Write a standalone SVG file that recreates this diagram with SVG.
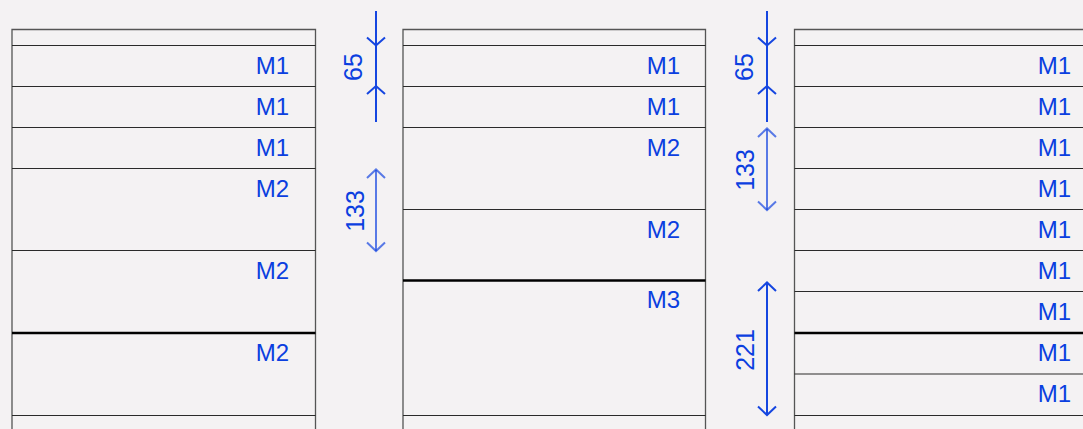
<svg xmlns="http://www.w3.org/2000/svg" width="1083" height="429" viewBox="0 0 1083 429">
<style>
.bg{fill:#f4f2f3}
.box{fill:#f4f2f3;stroke:#555;stroke-width:1.3}
.sep{stroke:#2a2a2a;stroke-width:1.2}
.thick{stroke:#000;stroke-width:2.4}
.lbl{font-family:"Liberation Sans",Arial,sans-serif;font-size:24px;fill:#0b3fe0;text-anchor:end}
.dim{stroke:#1546e0;stroke-width:2;fill:none}
.dimf{stroke:#1546e0;stroke-width:2;fill:none;stroke-opacity:0.7}
.dt{font-family:"Liberation Sans",Arial,sans-serif;font-size:25px;fill:#0b3fe0;text-anchor:middle}
</style>
<rect class="bg" x="0" y="0" width="1083" height="429"/>
<g id="column1">
<path class="box" d="M12,440 V29.5 H315.5 V440"/>
<line class="sep" x1="12" y1="45.5" x2="315.5" y2="45.5"/>
<line class="sep" x1="12" y1="86.5" x2="315.5" y2="86.5"/>
<line class="sep" x1="12" y1="127.5" x2="315.5" y2="127.5"/>
<line class="sep" x1="12" y1="168.5" x2="315.5" y2="168.5"/>
<line class="sep" x1="12" y1="250.5" x2="315.5" y2="250.5"/>
<line class="thick" x1="12" y1="333" x2="315.5" y2="333"/>
<line class="sep" x1="12" y1="415.5" x2="315.5" y2="415.5"/>
<text class="lbl" x="289" y="74">M1</text>
<text class="lbl" x="289" y="115">M1</text>
<text class="lbl" x="289" y="156">M1</text>
<text class="lbl" x="289" y="197">M2</text>
<text class="lbl" x="289" y="279">M2</text>
<text class="lbl" x="289" y="361">M2</text>
</g>
<g id="column2">
<path class="box" d="M403,440 V29.5 H705.5 V440"/>
<line class="sep" x1="403" y1="45.5" x2="705.5" y2="45.5"/>
<line class="sep" x1="403" y1="86.5" x2="705.5" y2="86.5"/>
<line class="sep" x1="403" y1="127.5" x2="705.5" y2="127.5"/>
<line class="sep" x1="403" y1="209.5" x2="705.5" y2="209.5"/>
<line class="thick" x1="403" y1="280.5" x2="705.5" y2="280.5"/>
<line class="sep" x1="403" y1="415.5" x2="705.5" y2="415.5"/>
<text class="lbl" x="680" y="74">M1</text>
<text class="lbl" x="680" y="115">M1</text>
<text class="lbl" x="680" y="156">M2</text>
<text class="lbl" x="680" y="238">M2</text>
<text class="lbl" x="680" y="308">M3</text>
</g>
<g id="column3">
<path class="box" d="M794.5,440 V29.5 H1100"/>
<line class="sep" x1="794.5" y1="45.5" x2="1100" y2="45.5"/>
<line class="sep" x1="794.5" y1="86.5" x2="1100" y2="86.5"/>
<line class="sep" x1="794.5" y1="127.5" x2="1100" y2="127.5"/>
<line class="sep" x1="794.5" y1="168.5" x2="1100" y2="168.5"/>
<line class="sep" x1="794.5" y1="209.5" x2="1100" y2="209.5"/>
<line class="sep" x1="794.5" y1="250.5" x2="1100" y2="250.5"/>
<line class="sep" x1="794.5" y1="291.5" x2="1100" y2="291.5"/>
<line class="thick" x1="794.5" y1="333" x2="1100" y2="333"/>
<line class="sep" x1="794.5" y1="374" x2="1100" y2="374"/>
<line class="sep" x1="794.5" y1="415.5" x2="1100" y2="415.5"/>
<text class="lbl" x="1071" y="74">M1</text>
<text class="lbl" x="1071" y="115">M1</text>
<text class="lbl" x="1071" y="156">M1</text>
<text class="lbl" x="1071" y="197">M1</text>
<text class="lbl" x="1071" y="238">M1</text>
<text class="lbl" x="1071" y="279">M1</text>
<text class="lbl" x="1071" y="320">M1</text>
<text class="lbl" x="1071" y="361">M1</text>
<text class="lbl" x="1071" y="402">M1</text>
</g>
<g id="connectors">
<g id="dim-65-left">
<line class="dim" x1="376" y1="11" x2="376" y2="122"/>
<path class="dim" d="M367,37.5 L376,45.5 L385,37.5"/>
<path class="dim" d="M367,94 L376,86 L385,94"/>
<text class="dt" transform="translate(362,67) rotate(-90)">65</text>
</g>
<g id="dim-133-left">
<line class="dimf" x1="376" y1="170" x2="376" y2="251"/>
<path class="dimf" d="M367,178 L376,169.5 L385,178"/>
<path class="dimf" d="M367,242.5 L376,251 L385,242.5"/>
<text class="dt" transform="translate(364,211) rotate(-90)">133</text>
</g>
<g id="dim-65-right">
<line class="dim" x1="767" y1="11" x2="767" y2="122"/>
<path class="dim" d="M758,37.5 L767,45.5 L776,37.5"/>
<path class="dim" d="M758,94 L767,86 L776,94"/>
<text class="dt" transform="translate(753,67) rotate(-90)">65</text>
</g>
<g id="dim-133-right">
<line class="dimf" x1="767" y1="129" x2="767" y2="210"/>
<path class="dimf" d="M758,137 L767,128.5 L776,137"/>
<path class="dimf" d="M758,201.5 L767,210 L776,201.5"/>
<text class="dt" transform="translate(754,170) rotate(-90)">133</text>
</g>
<g id="dim-221-right">
<line class="dim" x1="767" y1="283" x2="767" y2="415"/>
<path class="dim" d="M758,291 L767,282.5 L776,291"/>
<path class="dim" d="M758,406.5 L767,415 L776,406.5"/>
<text class="dt" transform="translate(754,350) rotate(-90)">221</text>
</g>
</g>
</svg>
